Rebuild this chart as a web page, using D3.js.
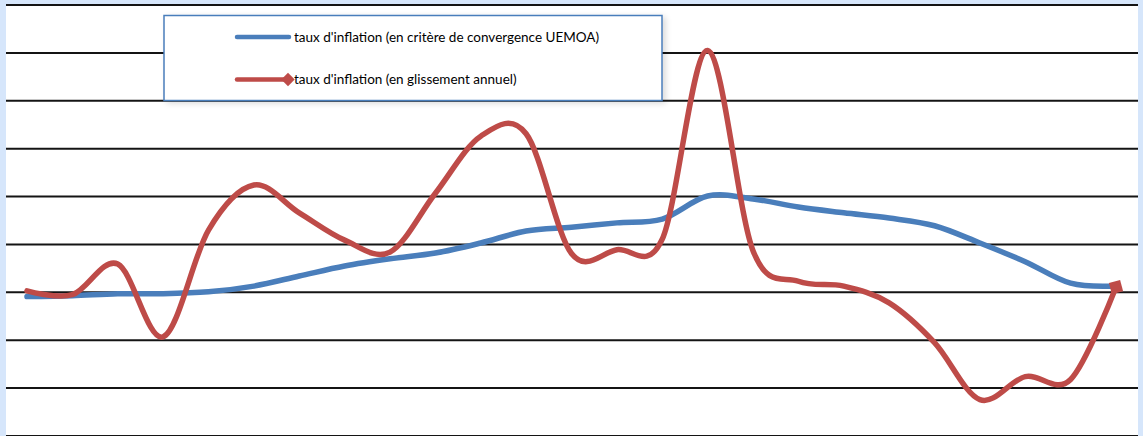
<!DOCTYPE html>
<html>
<head>
<meta charset="utf-8">
<script src="https://cdn.jsdelivr.net/npm/d3@7/dist/d3.min.js"></script>
<style>
  html, body { margin: 0; padding: 0; background: #d6e6fb; }
  svg { display: block; }
</style>
</head>
<body>
<svg id="chart" width="1143" height="436"></svg>
<script>
// ---- data (25 periods) ----
const periods = d3.range(1, 26);
const seriesNames = [
  "taux d'inflation (en critère de convergence UEMOA)",
  "taux d'inflation (en glissement annuel)"
];
const convergence = [-0.10, -0.08, -0.04, -0.04, 0.00, 0.12, 0.33, 0.54, 0.69, 0.81,
                     1.02, 1.27, 1.35, 1.44, 1.52, 2.00, 1.94, 1.77, 1.65, 1.54,
                     1.38, 1.02, 0.63, 0.18, 0.12];
const glissement = [0.02, -0.06, 0.58, -0.94, 1.29, 2.23, 1.65, 1.08, 0.83, 2.06,
                    3.25, 3.30, 0.80, 0.88, 1.10, 5.04, 0.86, 0.22, 0.12, -0.23,
                    -1.06, -2.25, -1.77, -1.83, 0.10];
const yTicks = [-3, -2, -1, 0, 1, 2, 3, 4, 5, 6];

// ---- layout ----
const svg = d3.select("#chart");
const W = 1143, H = 436;
const plot = { left: 6, right: 1138, top: 4, bottom: 436 };

svg.append("rect").attr("x", 0).attr("y", 0).attr("width", W).attr("height", H).attr("fill", "#d6e6fb");
svg.append("rect").attr("x", plot.left).attr("y", plot.top)
  .attr("width", plot.right - plot.left).attr("height", plot.bottom - plot.top).attr("fill", "#ffffff");

const x = d3.scaleLinear().domain([1, 25]).range([27, 1116]);
const y = d3.scaleLinear().domain([-3, 6]).range([435.5, 4.5]);

// gridlines
const yAxis = d3.axisLeft(y).tickValues(yTicks).tickSize(-(plot.right - plot.left)).tickFormat("");
const g = svg.append("g").attr("transform", `translate(${plot.left},0)`).call(yAxis);
g.select(".domain").remove();
g.selectAll(".tick line").attr("stroke", "#000").attr("stroke-width", 2).attr("stroke-opacity", 0.92);

const curve = d3.curveCardinal.tension(0);
const line = d3.line().x((d, i) => x(periods[i])).y(d => y(d)).curve(curve);

svg.append("path").datum(convergence).attr("d", line)
  .attr("fill", "none").attr("stroke", "#4a7ebb").attr("stroke-width", 5.5)
  .attr("stroke-linejoin", "round").attr("stroke-linecap", "round");

svg.append("path").datum(glissement).attr("d", line)
  .attr("fill", "none").attr("stroke", "#be4b48").attr("stroke-width", 5.5)
  .attr("stroke-linejoin", "round").attr("stroke-linecap", "round");

// marker at last point
const last = glissement.length - 1;
svg.append("path").attr("d", d3.symbol().type(d3.symbolSquare).size(135))
  .attr("transform", `translate(${x(periods[last])},${y(glissement[last])}) rotate(-15)`)
  .attr("fill", "#be4b48");

// ---- legend ----
const lg = svg.append("g");
const defs = svg.append("defs");
const flt = defs.append("filter").attr("id", "sh").attr("x", "-5%").attr("y", "-10%").attr("width", "120%").attr("height", "130%");
flt.append("feGaussianBlur").attr("in", "SourceAlpha").attr("stdDeviation", 3);
flt.append("feOffset").attr("dx", 3).attr("dy", 2).attr("result", "ob");
flt.append("feComponentTransfer").append("feFuncA").attr("type", "linear").attr("slope", 0.15);
const fm = flt.append("feMerge");
fm.append("feMergeNode");
fm.append("feMergeNode").attr("in", "SourceGraphic");

lg.append("rect").attr("x", 164).attr("y", 15.5).attr("width", 498).attr("height", 85)
  .attr("fill", "#fff").attr("stroke", "#4a7ebb").attr("stroke-width", 1.5).attr("filter", "url(#sh)");

const colors = ["#4a7ebb", "#be4b48"];
seriesNames.forEach((name, i) => {
  const yy = 37 + i * 42.5;
  lg.append("line").attr("x1", 237).attr("x2", 289).attr("y1", yy).attr("y2", yy)
    .attr("stroke", colors[i]).attr("stroke-width", 4.5).attr("stroke-linecap", "round");
  if (i === 1) {
    lg.append("path").attr("d", d3.symbol().type(d3.symbolSquare).size(90))
      .attr("transform", `translate(288,${yy}) rotate(45)`).attr("fill", colors[i]);
  }
  lg.append("text").attr("x", 294).attr("y", yy).attr("dy", "0.35em")
    .attr("font-family", "Lato, 'Open Sans', sans-serif").attr("font-size", 13.5)
    .attr("fill", "#000").text(name);
});
</script>
</body>
</html>
